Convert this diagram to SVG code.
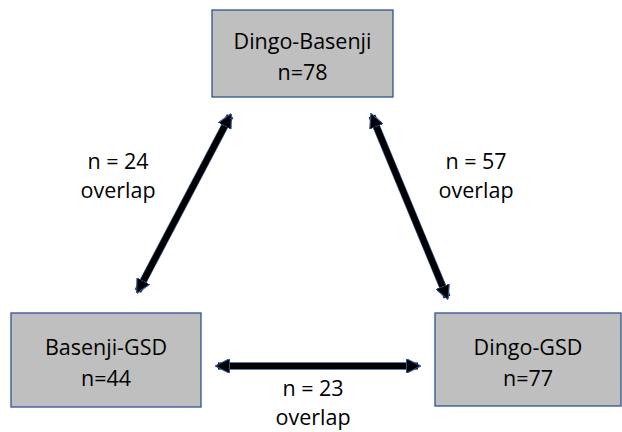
<svg xmlns="http://www.w3.org/2000/svg" width="622" height="432" viewBox="0 0 622 432">
<style>
.box{fill:#bfbfbf;stroke:#2f528f;stroke-width:1.3}
text{font-family:"Open Sans","Liberation Sans",sans-serif;font-size:21.5px;fill:#000;text-anchor:middle}
.edge{stroke:#000;stroke-width:6;fill:none}
.edgeo{stroke:#2f528f;stroke-width:7.5;fill:none}
</style>
<defs>
<marker id="ah" viewBox="0 0 10 10" refX="8" refY="5" markerWidth="2.4" markerHeight="2.4" orient="auto-start-reverse" markerUnits="strokeWidth">
<path d="M0,0 L10,5 L0,10 z" fill="#000" stroke="#2f528f" stroke-width="0.8"/>
</marker>
</defs>
<rect x="0" y="0" width="622" height="432" fill="#fff"/>
<g id="connectors">
<line class="edgeo" x1="138" y1="291" x2="230" y2="116"/>
<line class="edge" x1="138" y1="291" x2="230" y2="116" marker-start="url(#ah)" marker-end="url(#ah)"/>
<line class="edgeo" x1="372" y1="116" x2="447" y2="297"/>
<line class="edge" x1="372" y1="116" x2="447" y2="297" marker-start="url(#ah)" marker-end="url(#ah)"/>
<line class="edgeo" x1="218" y1="366" x2="418" y2="366"/>
<line class="edge" x1="218" y1="366" x2="418" y2="366" marker-start="url(#ah)" marker-end="url(#ah)"/>
<text x="118" y="169">n = 24</text>
<text x="118" y="198">overlap</text>
<text x="476" y="169">n = 57</text>
<text x="476" y="198">overlap</text>
<text x="313" y="396">n = 23</text>
<text x="313" y="425">overlap</text>
</g>
<g id="dingo-basenji">
<rect class="box" x="212" y="10" width="181" height="87"/>
<text x="302.5" y="49">Dingo-Basenji</text>
<text x="302.5" y="80">n=78</text>
</g>
<g id="basenji-gsd">
<rect class="box" x="11" y="313" width="190" height="94"/>
<text x="106" y="355">Basenji-GSD</text>
<text x="106" y="386">n=44</text>
</g>
<g id="dingo-gsd">
<rect class="box" x="435" y="313" width="186" height="93"/>
<text x="528" y="355">Dingo-GSD</text>
<text x="528" y="386">n=77</text>
</g>
</svg>
